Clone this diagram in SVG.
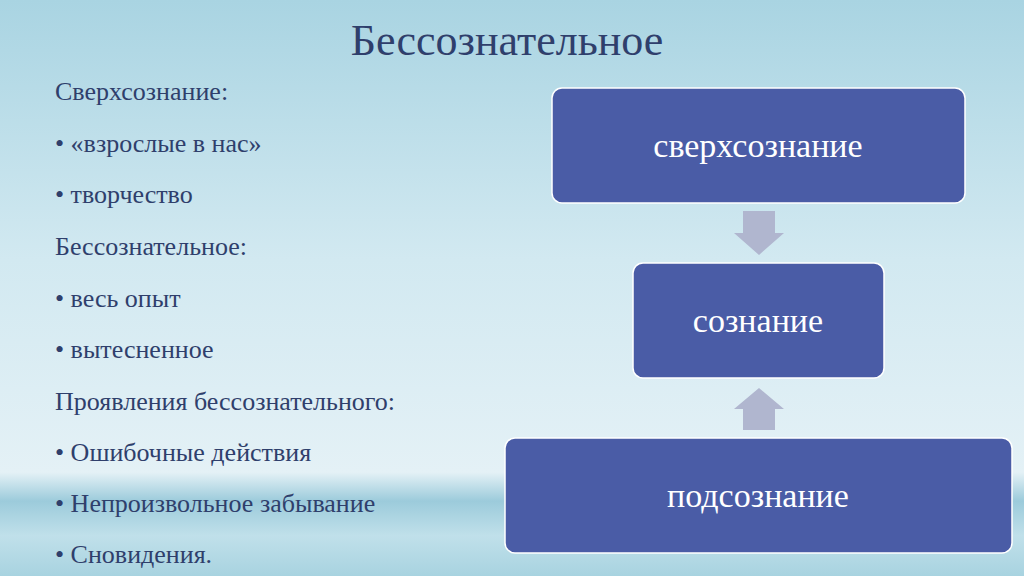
<svg xmlns="http://www.w3.org/2000/svg" width="1024" height="576" viewBox="0 0 1024 576">
<defs>
<linearGradient id="bg" x1="0" y1="0" x2="0" y2="1">
<stop offset="0" stop-color="#a9d4e2"/><stop offset="0.45" stop-color="#d2e9f1"/><stop offset="0.82" stop-color="#e4f1f6"/><stop offset="0.87" stop-color="#9ccbdb"/><stop offset="0.93" stop-color="#c0e0ea"/><stop offset="1" stop-color="#a8d3e0"/>
</linearGradient>
<style>
.t{font-family:"Liberation Serif","DejaVu Serif",serif;fill:#2f3f6c}
.l{font-size:26px}
.box{fill:#4a5ca6;stroke:#ffffff;stroke-width:1.5}
.bt{font-family:"Liberation Serif","DejaVu Serif",serif;fill:#fff;font-size:34px;text-anchor:middle}
.ar{fill:#b0b6cf}
</style>
</defs>
<rect width="1024" height="576" fill="url(#bg)"/>
<text class="t" x="507" y="55" font-size="44" text-anchor="middle">Бессознательное</text>
<g class="t l">
<text x="55" y="100">Сверхсознание:</text>
<text x="55" y="152">• «взрослые в нас»</text>
<text x="55" y="203">• творчество</text>
<text x="55" y="255">Бессознательное:</text>
<text x="55" y="307">• весь опыт</text>
<text x="55" y="358">• вытесненное</text>
<text x="55" y="410">Проявления бессознательного:</text>
<text x="55" y="461">• Ошибочные действия</text>
<text x="55" y="512">• Непроизвольное забывание</text>
<text x="55" y="563">• Сновидения.</text>
</g>
<g id="connectors">
<polygon class="ar" points="743,211 775,211 775,233 784,233 759,255 734,233 743,233"/>
<polygon class="ar" points="759,388 784,409 775,409 775,430 743,430 743,409 734,409"/>
</g>
<g id="n1"><rect class="box" x="552" y="88" width="413" height="115" rx="10"/><text class="bt" x="758" y="157">сверхсознание</text></g>
<g id="n2"><rect class="box" x="633" y="263" width="251" height="115" rx="10"/><text class="bt" x="758" y="332">сознание</text></g>
<g id="n3"><rect class="box" x="505" y="438" width="507" height="115" rx="10"/><text class="bt" x="758" y="507">подсознание</text></g>
</svg>
